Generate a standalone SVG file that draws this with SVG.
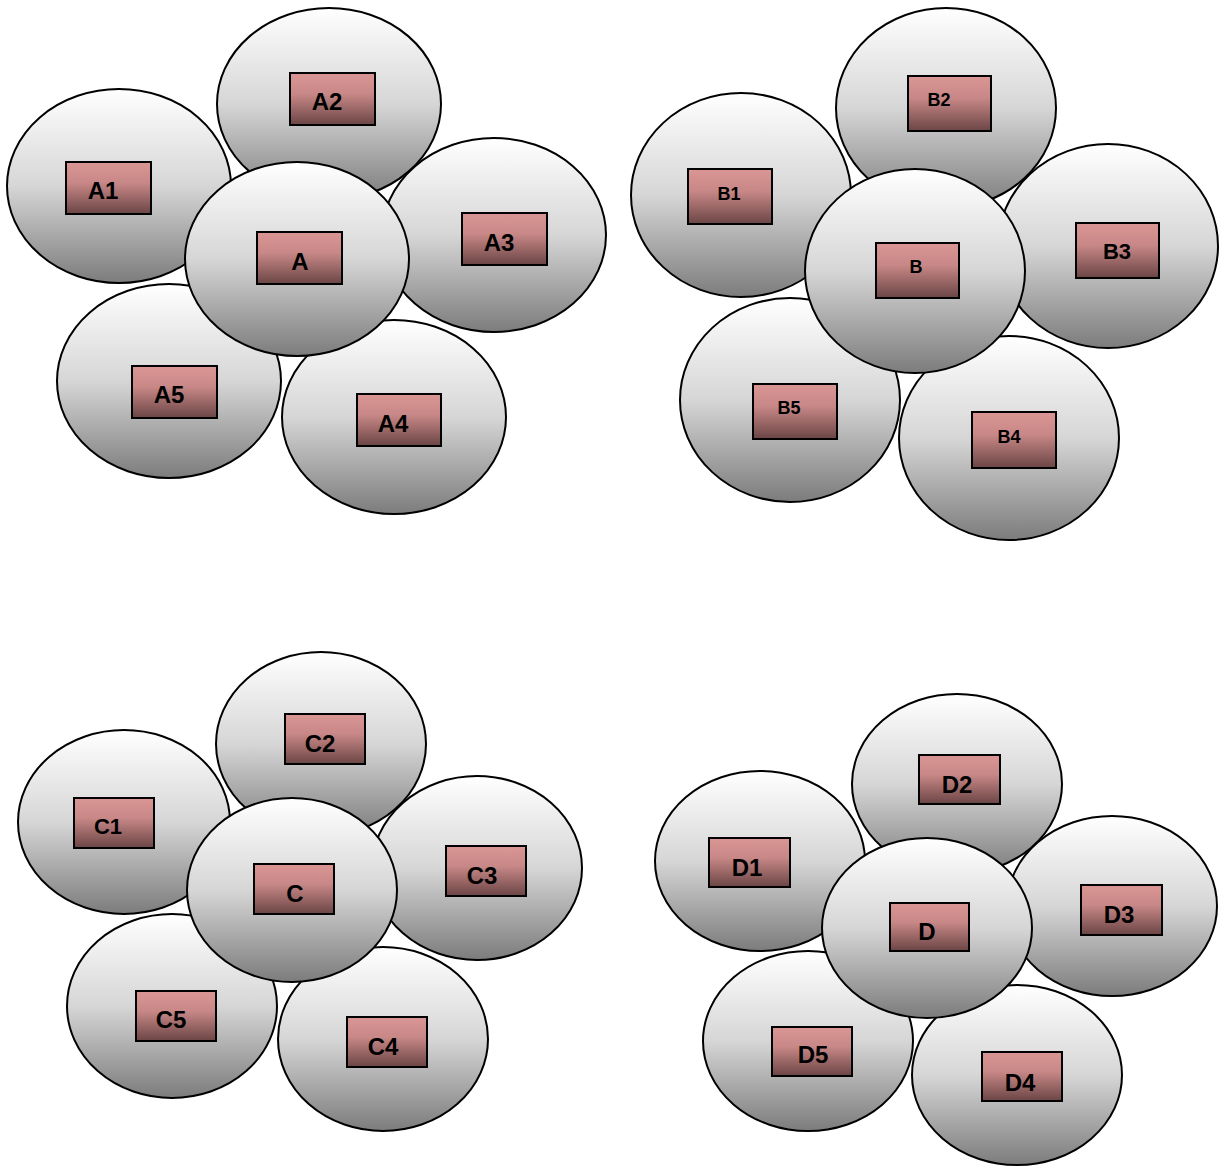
<svg xmlns="http://www.w3.org/2000/svg" width="1221" height="1167" viewBox="0 0 1221 1167">
<defs>
<linearGradient id="eg" x1="0" y1="0" x2="0" y2="1">
<stop offset="0" stop-color="#ffffff"/>
<stop offset="0.5" stop-color="#d6d6d6"/>
<stop offset="1" stop-color="#7c7c7c"/>
</linearGradient>
<linearGradient id="rg" x1="0" y1="0" x2="0" y2="1">
<stop offset="0" stop-color="#da9695"/>
<stop offset="0.4" stop-color="#c88887"/>
<stop offset="1" stop-color="#6b4545"/>
</linearGradient>
<style>
.e{fill:url(#eg);stroke:#000;stroke-width:2}
.r{fill:url(#rg);stroke:#000;stroke-width:2}
.t{font-family:"Liberation Sans",Arial,sans-serif;font-weight:bold;fill:#000;text-anchor:middle;dominant-baseline:central}
.l{font-size:24px}
.s{font-size:18px}
.m{font-size:22px}
</style>
</defs>
<rect width="1221" height="1167" fill="#fff"/>
<g id="groupA">
<g id="A2"><ellipse class="e" cx="329" cy="104" rx="112" ry="96"/><rect class="r" x="290" y="73" width="85" height="52"/><text class="t l" x="327" y="101">A2</text></g>
<g id="A1"><ellipse class="e" cx="119" cy="186" rx="112" ry="97"/><rect class="r" x="66" y="162" width="85" height="52"/><text class="t l" x="103" y="190">A1</text></g>
<g id="A3"><ellipse class="e" cx="494" cy="235" rx="112" ry="97"/><rect class="r" x="462" y="213" width="85" height="52"/><text class="t l" x="499" y="242">A3</text></g>
<g id="A5"><ellipse class="e" cx="169" cy="381" rx="112" ry="97"/><rect class="r" x="132" y="366" width="85" height="52"/><text class="t l" x="169" y="394">A5</text></g>
<g id="A4"><ellipse class="e" cx="394" cy="417" rx="112" ry="97"/><rect class="r" x="357" y="394" width="84" height="52"/><text class="t l" x="393" y="423">A4</text></g>
<g id="A"><ellipse class="e" cx="297" cy="259" rx="112" ry="97"/><rect class="r" x="257" y="232" width="85" height="52"/><text class="t l" x="300" y="261">A</text></g>
</g>
<g id="groupB">
<g id="B2"><ellipse class="e" cx="946" cy="108" rx="110" ry="100"/><rect class="r" x="908" y="76" width="83" height="55"/><text class="t s" x="939" y="100">B2</text></g>
<g id="B1"><ellipse class="e" cx="741" cy="195" rx="110" ry="102"/><rect class="r" x="688" y="169" width="84" height="55"/><text class="t s" x="729" y="194">B1</text></g>
<g id="B3"><ellipse class="e" cx="1108" cy="246" rx="110" ry="102"/><rect class="r" x="1076" y="223" width="83" height="55"/><text class="t m" x="1117" y="251">B3</text></g>
<g id="B5"><ellipse class="e" cx="790" cy="400" rx="110" ry="102"/><rect class="r" x="753" y="384" width="84" height="55"/><text class="t s" x="789" y="408">B5</text></g>
<g id="B4"><ellipse class="e" cx="1009" cy="438" rx="110" ry="102"/><rect class="r" x="972" y="412" width="84" height="56"/><text class="t s" x="1009" y="437">B4</text></g>
<g id="B"><ellipse class="e" cx="915" cy="271" rx="110" ry="102"/><rect class="r" x="876" y="243" width="83" height="55"/><text class="t s" x="916" y="267">B</text></g>
</g>
<g id="groupC">
<g id="C2"><ellipse class="e" cx="321" cy="744" rx="105" ry="92"/><rect class="r" x="285" y="714" width="80" height="50"/><text class="t l" x="320" y="743">C2</text></g>
<g id="C1"><ellipse class="e" cx="124" cy="822" rx="106" ry="92"/><rect class="r" x="74" y="798" width="80" height="50"/><text class="t m" x="108" y="826">C1</text></g>
<g id="C3"><ellipse class="e" cx="477" cy="868" rx="105" ry="92"/><rect class="r" x="446" y="846" width="80" height="50"/><text class="t l" x="482" y="875">C3</text></g>
<g id="C5"><ellipse class="e" cx="172" cy="1006" rx="105" ry="92"/><rect class="r" x="136" y="991" width="80" height="50"/><text class="t l" x="171" y="1019">C5</text></g>
<g id="C4"><ellipse class="e" cx="383" cy="1039" rx="105" ry="92"/><rect class="r" x="347" y="1017" width="80" height="50"/><text class="t l" x="383" y="1046">C4</text></g>
<g id="C"><ellipse class="e" cx="292" cy="890" rx="105" ry="92"/><rect class="r" x="254" y="864" width="80" height="50"/><text class="t l" x="295" y="893">C</text></g>
</g>
<g id="groupD">
<g id="D2"><ellipse class="e" cx="957" cy="784" rx="105" ry="90"/><rect class="r" x="919" y="755" width="81" height="49"/><text class="t l" x="957" y="784">D2</text></g>
<g id="D1"><ellipse class="e" cx="760" cy="861" rx="105" ry="90"/><rect class="r" x="709" y="838" width="81" height="49"/><text class="t l" x="747" y="867">D1</text></g>
<g id="D3"><ellipse class="e" cx="1112" cy="906" rx="105" ry="90"/><rect class="r" x="1081" y="885" width="81" height="50"/><text class="t l" x="1119" y="914">D3</text></g>
<g id="D5"><ellipse class="e" cx="808" cy="1041" rx="105" ry="90"/><rect class="r" x="772" y="1027" width="80" height="49"/><text class="t l" x="813" y="1054">D5</text></g>
<g id="D4"><ellipse class="e" cx="1017" cy="1075" rx="105" ry="90"/><rect class="r" x="982" y="1052" width="80" height="49"/><text class="t l" x="1020" y="1082">D4</text></g>
<g id="D"><ellipse class="e" cx="927" cy="928" rx="105" ry="90"/><rect class="r" x="890" y="903" width="79" height="48"/><text class="t l" x="927" y="931">D</text></g>
</g>
<g id="connectors"/>
</svg>
